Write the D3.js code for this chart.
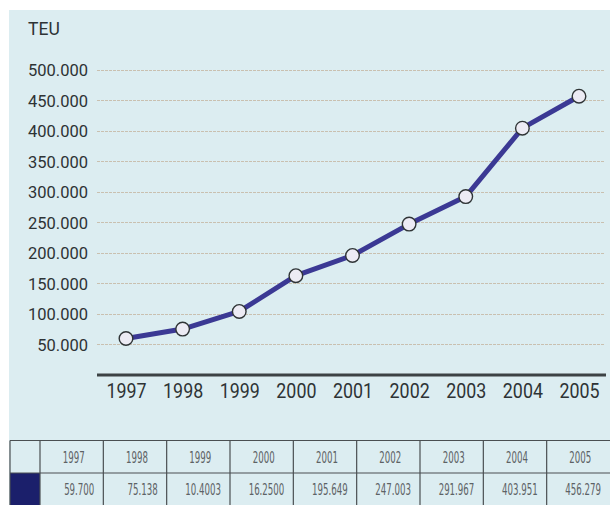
<!DOCTYPE html>
<html>
<head>
<meta charset="utf-8">
<script src="https://cdn.jsdelivr.net/npm/d3@7/dist/d3.min.js"></script>
<style>
  html, body { margin: 0; padding: 0; background: #ffffff; }
  svg { display: block; }
</style>
</head>
<body>
<svg id="chart" width="610" height="505"></svg>
<script>
// Container throughput (TEU) per year
const years = ["1997", "1998", "1999", "2000", "2001", "2002", "2003", "2004", "2005"];
const teu = [59700, 75138, 104003, 162500, 195649, 247003, 291967, 403951, 456279];
// Figures as printed in the table row
const tableLabels = ["59.700", "75.138", "10.4003", "16.2500", "195.649", "247.003", "291.967", "403.951", "456.279"];
const yTicks = [50000, 100000, 150000, 200000, 250000, 300000, 350000, 400000, 450000, 500000];

const svg = d3.select("#chart");
const W = 610, H = 505;
const mainFont = "Roboto, 'DejaVu Sans', sans-serif";
const textCol = "#2e3335";

// panel background
svg.append("rect")
  .attr("x", 9).attr("y", 10)
  .attr("width", W - 9).attr("height", H - 10)
  .attr("fill", "#dcedf1");

const x = d3.scalePoint().domain(years).range([126, 579]);
const y = d3.scaleLinear().domain([0, 500000]).range([375, 69.5]);

const tickFmt = v => Math.floor(v / 1000) + ".000";

// horizontal gridlines
svg.append("g")
  .selectAll("line")
  .data(yTicks)
  .join("line")
  .attr("x1", 97).attr("x2", 605)
  .attr("y1", d => Math.round(y(d)) + 0.5)
  .attr("y2", d => Math.round(y(d)) + 0.5)
  .attr("stroke", "#c9c0b0")
  .attr("stroke-width", 1)
  .attr("stroke-dasharray", "3,1");

// y axis labels
const yAxis = d3.axisLeft(y).tickValues(yTicks).tickFormat(tickFmt).tickSize(0).tickPadding(0);
const gy = svg.append("g").attr("transform", "translate(88,0)").call(yAxis);
gy.select(".domain").remove();
gy.selectAll("text")
  .attr("font-family", mainFont)
  .attr("font-size", 16.5)
  .attr("fill", textCol)
  .attr("dy", "0.36em");

svg.append("text")
  .attr("x", 28).attr("y", 35)
  .attr("font-family", mainFont)
  .attr("font-size", 17.5)
  .attr("fill", textCol)
  .text("TEU");

// x axis baseline and year labels
const xAxis = d3.axisBottom(x).tickSize(0).tickPadding(0);
const gx = svg.append("g").attr("transform", "translate(0,375)").call(xAxis);
gx.select(".domain").remove();
gx.append("line")
  .attr("x1", 97).attr("x2", 606)
  .attr("y1", 0).attr("y2", 0)
  .attr("stroke", "#3c4244").attr("stroke-width", 2.8);
gx.selectAll(".tick text")
  .attr("font-family", mainFont)
  .attr("font-size", 20.5)
  .attr("fill", textCol)
  .attr("y", 23)
  .attr("dy", null)
  .attr("transform", "scale(0.87,1)");

// line
const line = d3.line().x((d, i) => x(years[i])).y(d => y(d));
svg.append("path")
  .datum(teu)
  .attr("d", line)
  .attr("fill", "none")
  .attr("stroke", "#3b3994")
  .attr("stroke-width", 5)
  .attr("stroke-linejoin", "round");

svg.append("g")
  .selectAll("circle")
  .data(teu)
  .join("circle")
  .attr("cx", (d, i) => x(years[i]))
  .attr("cy", d => y(d))
  .attr("r", 6.8)
  .attr("fill", "#ecebf4")
  .attr("stroke", "#2f3436")
  .attr("stroke-width", 1.4);

// data table
const tTop = 440.5, rowH = 32.5;
const colX = d3.scaleBand().domain(years).range([40, 610]);
const tbl = svg.append("g");

tbl.append("rect")
  .attr("x", 10).attr("y", tTop + rowH)
  .attr("width", 30).attr("height", H - (tTop + rowH))
  .attr("fill", "#1b1f6b");

const border = "#4a4f52";
tbl.append("line").attr("x1", 10).attr("x2", 610).attr("y1", tTop).attr("y2", tTop)
  .attr("stroke", border).attr("stroke-width", 1.2);
tbl.append("line").attr("x1", 10).attr("x2", 610).attr("y1", tTop + rowH).attr("y2", tTop + rowH)
  .attr("stroke", border).attr("stroke-width", 1.2);
tbl.append("line").attr("x1", 10).attr("x2", 10).attr("y1", tTop).attr("y2", H)
  .attr("stroke", border).attr("stroke-width", 1.2);
tbl.selectAll("line.col")
  .data(years)
  .join("line")
  .attr("class", "col")
  .attr("x1", d => colX(d)).attr("x2", d => colX(d))
  .attr("y1", tTop).attr("y2", H)
  .attr("stroke", border).attr("stroke-width", 1.2);

// narrow table lettering: condensed face squeezed horizontally
const tblFont = "'DejaVu Sans Condensed', 'DejaVu Sans', sans-serif";
const squeeze = 0.6;
tbl.selectAll("text.yr")
  .data(years)
  .join("text")
  .attr("class", "yr")
  .attr("transform", d => `translate(${colX(d) + colX.bandwidth() / 2 + 2},${tTop + rowH / 2 + 6}) scale(${squeeze},1)`)
  .attr("text-anchor", "middle")
  .attr("font-family", tblFont)
  .attr("font-size", 16)
  .attr("fill", "#5d6265")
  .text(d => d);

tbl.selectAll("text.val")
  .data(tableLabels)
  .join("text")
  .attr("class", "val")
  .attr("transform", (d, i) => `translate(${colX(years[i]) + colX.bandwidth() - 9},${tTop + rowH + rowH / 2 + 6}) scale(${squeeze},1)`)
  .attr("text-anchor", "end")
  .attr("font-family", tblFont)
  .attr("font-size", 16)
  .attr("fill", "#5d6265")
  .text(d => d);
</script>
</body>
</html>
